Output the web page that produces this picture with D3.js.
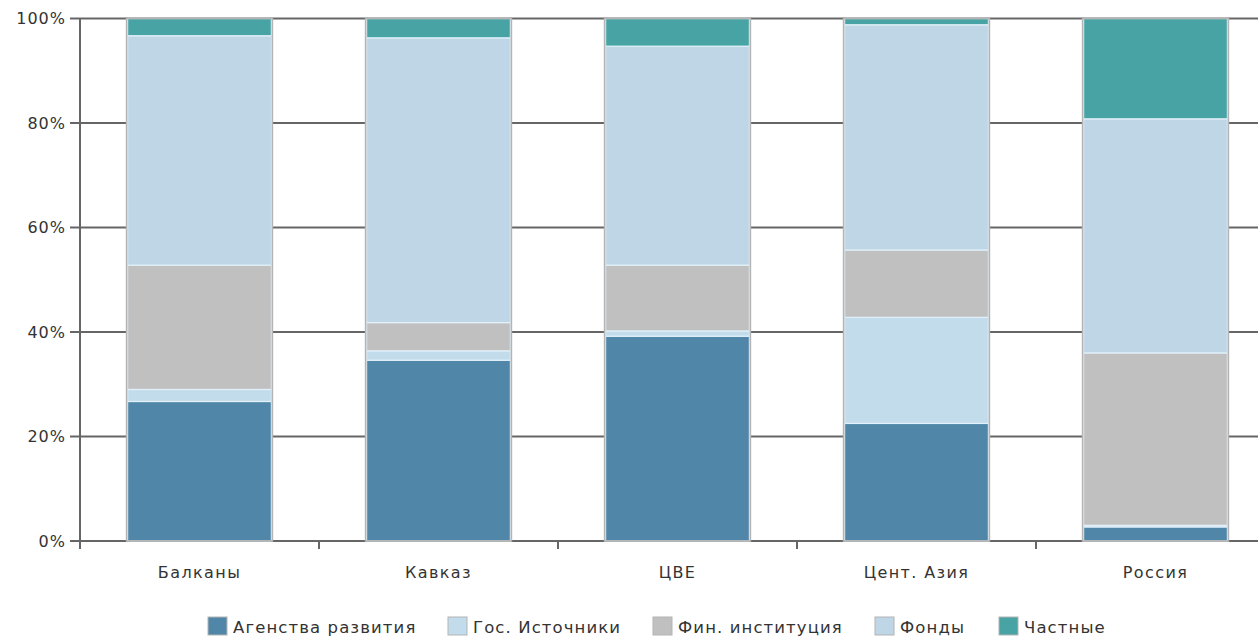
<!DOCTYPE html>
<html>
<head>
<meta charset="utf-8">
<script src="https://cdn.jsdelivr.net/npm/d3@7"></script>
<style>
  html, body { margin: 0; padding: 0; background: #fff; }
  svg { display: block; }
  text { font-family: "DejaVu Sans", Verdana, sans-serif; fill: #333; }
</style>
</head>
<body>
<svg id="chart" width="1258" height="638"></svg>
<script>
// ---- data ----
const categories = ["Балканы", "Кавказ", "ЦВЕ", "Цент. Азия", "Россия"];
const seriesNames = ["Агенства развития", "Гос. Источники", "Фин. институция", "Фонды", "Частные"];
const agencies    = [26.7, 34.6, 39.2, 22.5, 2.7];
const govSources  = [2.3, 1.8, 1.0, 20.3, 0.3];
const finInst     = [23.8, 5.4, 12.6, 12.9, 33.0];
const funds       = [43.9, 54.5, 41.9, 43.1, 44.8];
const privateSrc  = [3.3, 3.7, 5.3, 1.2, 19.2];
const yTicks = [0, 20, 40, 60, 80, 100];
const colors = ["#5086a8", "#c3dcec", "#c0c0c0", "#bed6e5", "#48a4a4"];

const seriesValues = [agencies, govSources, finInst, funds, privateSrc];
const rows = categories.map((c, i) => {
  const r = { cat: c };
  seriesNames.forEach((s, j) => r[s] = seriesValues[j][i]);
  return r;
});

const svg = d3.select("#chart");
const x = d3.scaleBand().domain(categories).range([80, 1275]).paddingInner(0.39).paddingOuter(0.195);
const y = d3.scaleLinear().domain([0, 100]).range([541, 18.5]);

// gridlines
svg.append("g").selectAll("line").data(yTicks).join("line")
  .attr("x1", 70).attr("x2", 1258)
  .attr("y1", d => y(d)).attr("y2", d => y(d))
  .attr("stroke", "#666").attr("stroke-width", 2);

// y axis line
svg.append("line").attr("x1", 80).attr("x2", 80).attr("y1", y(100)).attr("y2", y(0) + 8)
  .attr("stroke", "#666").attr("stroke-width", 2);

// x ticks at band boundaries
const step = x.step();
const xTickPos = d3.range(0, categories.length + 1).map(i => 80 + i * step).filter(v => v < 1258);
svg.append("g").selectAll("line").data(xTickPos).join("line")
  .attr("x1", d => d).attr("x2", d => d).attr("y1", y(0)).attr("y2", y(0) + 8)
  .attr("stroke", "#666").attr("stroke-width", 2);

// y labels
svg.append("g").selectAll("text").data(yTicks).join("text")
  .attr("x", 66).attr("y", d => y(d)).attr("dy", "0.36em")
  .attr("text-anchor", "end").style("font-size", "16px").style("letter-spacing", "1px")
  .text(d => d + "%");

// stacked bars
const stack = d3.stack().keys(seriesNames);
const stacked = stack(rows);
const barG = svg.append("g");
stacked.forEach((layer, j) => {
  barG.append("g").selectAll("rect").data(layer).join("rect")
    .attr("x", d => x(d.data.cat) + 1)
    .attr("width", x.bandwidth() - 2)
    .attr("y", d => y(d[1]))
    .attr("height", d => Math.max(0, y(d[0]) - y(d[1])))
    .attr("fill", colors[j])
    .attr("stroke", "#e2f1fa").attr("stroke-width", 1.2);
});
// bar outlines
barG.append("g").selectAll("rect").data(rows).join("rect")
  .attr("x", d => x(d.cat))
  .attr("width", x.bandwidth())
  .attr("y", y(100))
  .attr("height", y(0) - y(100))
  .attr("fill", "none").attr("stroke", "#b4b4b4").attr("stroke-width", 1.6);

// category labels
svg.append("g").selectAll("text").data(categories).join("text")
  .attr("x", d => x(d) + x.bandwidth() / 2).attr("y", 578)
  .attr("text-anchor", "middle").style("font-size", "16px").style("letter-spacing", "1.4px")
  .text(d => d);

// legend
const legendX = [208, 448, 653, 875, 999];
const lg = svg.append("g");
seriesNames.forEach((s, j) => {
  const g = lg.append("g").attr("transform", `translate(${legendX[j]},0)`);
  g.append("rect").attr("x", 0).attr("y", 617).attr("width", 19).attr("height", 18)
    .attr("fill", colors[j]).attr("stroke", "#b4b4b4").attr("stroke-width", 1);
  g.append("text").attr("x", 25).attr("y", 633)
    .style("font-size", "16.5px").style("letter-spacing", "1.1px").text(s);
});
</script>
</body>
</html>
